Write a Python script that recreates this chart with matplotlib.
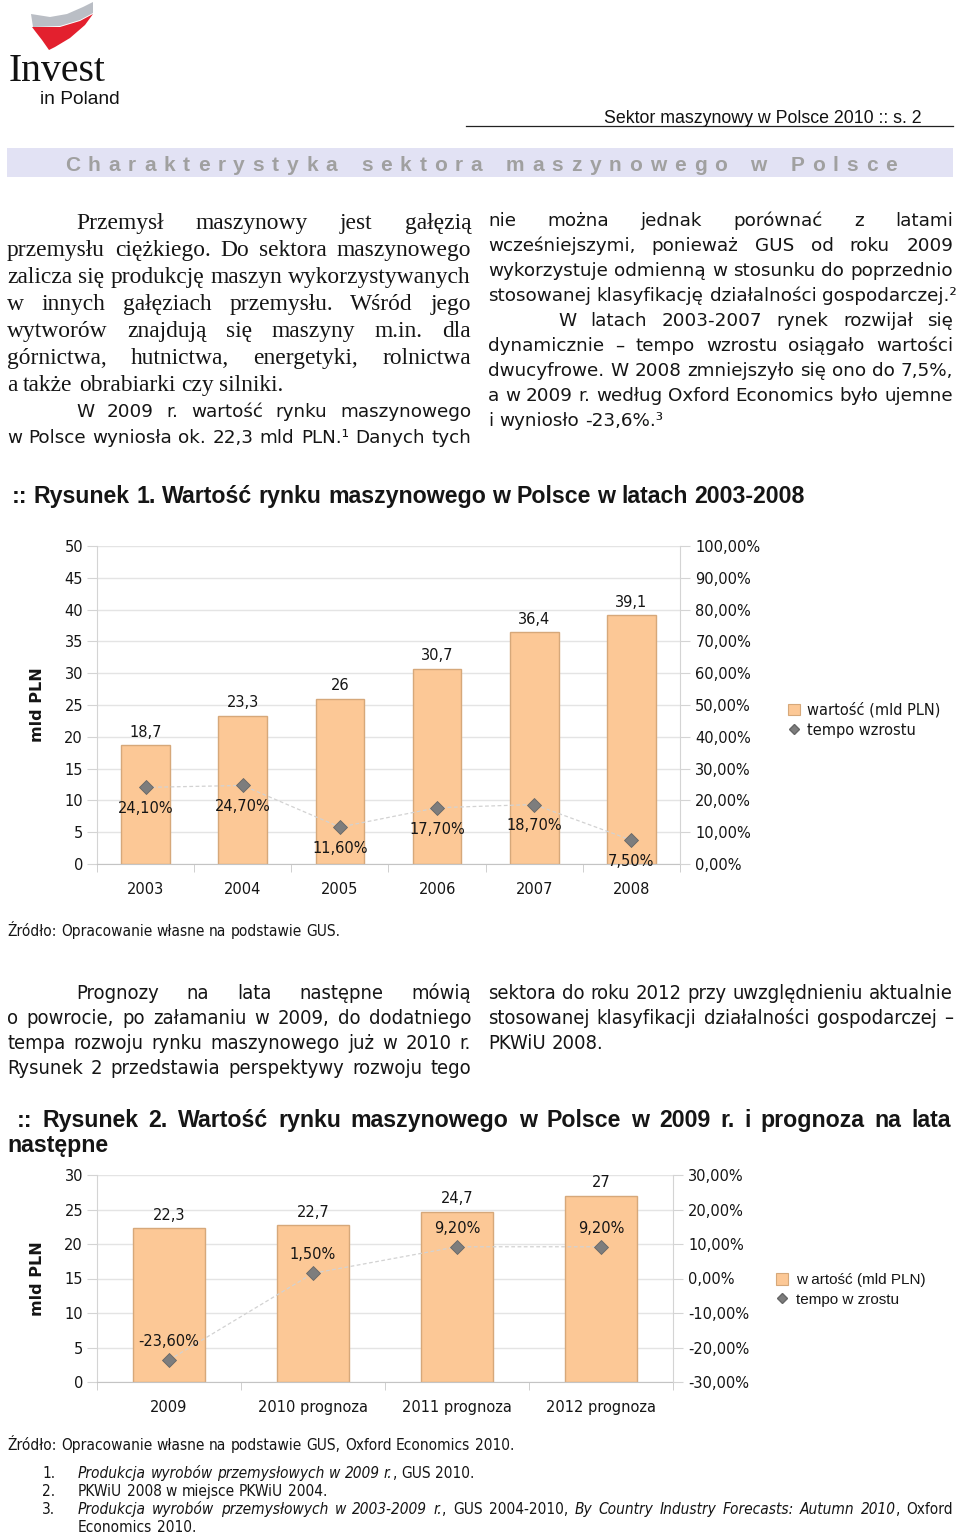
import numpy as np
import matplotlib
matplotlib.use('Agg')
import matplotlib.pyplot as plt
from matplotlib import font_manager
from matplotlib.patches import Polygon, Rectangle, Patch
from matplotlib.lines import Line2D
from matplotlib.ticker import FuncFormatter, MultipleLocator

# Rysunek 1: 2003-2008
years_1 = ['2003', '2004', '2005', '2006', '2007', '2008']
value_1 = [18.7, 23.3, 26, 30.7, 36.4, 39.1]
growth_1 = [24.1, 24.7, 11.6, 17.7, 18.7, 7.5]

# Rysunek 2: 2009 + prognoza
years_2 = ['2009', '2010 prognoza', '2011 prognoza', '2012 prognoza']
value_2 = [22.3, 22.7, 24.7, 27]
growth_2 = [-23.6, 1.5, 9.2, 9.2]

BAR = '#fcc896'
BAR_EDGE = '#d6a87a'
DIAMOND = '#7d7d7d'
GRID = '#e4e4e4'
INK = '#151515'

fonts = font_manager.fontManager.ttflist
installed = {f.name for f in fonts}
if 'Liberation Sans Narrow' in installed:
    NARROW = {'family': 'Liberation Sans Narrow'}
elif any(f.name == 'DejaVu Sans' and f.stretch == 'condensed' for f in fonts):
    NARROW = {'family': 'DejaVu Sans', 'fontstretch': 'condensed'}
else:
    NARROW = {'family': 'Liberation Sans'}

W, H = 960, 1534
fig = plt.figure(figsize=(W / 100, H / 100), dpi=100)
r = fig.canvas.get_renderer()


def fx(x):
    return x / W


def fy(y):
    return 1 - y / H


def text_w(s, **kw):
    t = fig.text(0, 0, s, **kw)
    w = t.get_window_extent(r).width
    t.remove()
    return w


def fit(s, target, **kw):
    return 10 * target / text_w(s, fontsize=10, **kw)


def runs(parts, x0, y, x1=None, **kw):
    # word by word, so a line can be justified between x0 and x1
    toks = []
    for s, extra in parts:
        bits = s.split(' ')
        for k, b in enumerate(bits):
            if b == '':
                if toks:
                    toks[-1][2] = True
                continue
            toks.append([b, extra, k < len(bits) - 1])
    toks[-1][2] = False
    objs, ws = [], []
    for b, extra, _ in toks:
        o = fig.text(fx(x0), fy(y), b, va='baseline', **{**kw, **extra})
        objs.append(o)
        ws.append(o.get_window_extent(r).width)
    n_sp = sum(t[2] for t in toks)
    sp = text_w('a a', **kw) - text_w('aa', **kw)
    if x1 is not None and n_sp:
        sp = (x1 - x0 - sum(ws)) / n_sp
    x = x0
    for o, w, t in zip(objs, ws, toks):
        o.set_x(fx(x))
        x += w + (sp if t[2] else 0)


def line(s, x0, y, x1=None, **kw):
    runs([(s, {})], x0, y, x1, **kw)


def block_size(lines, **kw):
    # biggest size at which every justified line still fits with plain spaces
    return min(fit(s, x1 - x0, **kw) for s, x0, x1 in lines if x1 is not None)


# ---- logo ----
gray = [(31, 14), (50, 17), (67, 14), (83, 7), (93, 2), (93, 13), (80, 20), (60, 26), (33, 27)]
red = [(32, 27), (60, 27), (80, 21), (93, 14), (85, 25), (70, 38), (55, 47), (49, 50), (42, 40), (35, 31)]
fig.add_artist(Polygon([(fx(a), fy(b)) for a, b in gray], closed=True, transform=fig.transFigure,
                       fc='#babec5', ec='none'))
fig.add_artist(Polygon([(fx(a), fy(b)) for a, b in red], closed=True, transform=fig.transFigure,
                       fc='#e3202e', ec='none'))
fig.text(fx(9), fy(81), 'Invest', family='Liberation Serif', va='baseline', color='#111',
         fontsize=fit('Invest', 97, family='Liberation Serif'))
fig.text(fx(40), fy(104), 'in Poland', family='Liberation Sans', va='baseline', color='#111',
         fontsize=fit('in Poland', 80, family='Liberation Sans'))

# ---- page header ----
hs = 'Sektor maszynowy w Polsce 2010 :: s. 2'
fig.text(fx(922), fy(123), hs, ha='right', va='baseline', family='Liberation Sans', color='#111',
         fontsize=fit(hs, 317, family='Liberation Sans'))
fig.add_artist(Line2D([fx(466), fx(953)], [fy(126), fy(126)], color='#222', lw=0.9,
                      transform=fig.transFigure))

fig.add_artist(Rectangle((fx(7), fy(177)), 946 / W, 29 / H, transform=fig.transFigure,
                         fc='#e2e2f4', ec='none'))
title = 'Charakterystyka sektora maszynowego w Polsce'
bkw = dict(family='Liberation Sans', fontweight='bold', fontsize=15, color='#a0a0a0')
cw = {c: text_w(c, **bkw) for c in set(title) if c != ' '}
n_chars = len(title.replace(' ', ''))
n_words = title.count(' ')
g = (832 - sum(cw[c] for c in title if c != ' ')) / (n_chars - 1 + 2 * n_words)
x = 65
for c in title:
    if c == ' ':
        x += 2 * g
        continue
    fig.text(fx(x), fy(171), c, va='baseline', **bkw)
    x += cw[c] + g

# ---- body text, part 1 ----
serif = dict(family='Liberation Serif', color=INK)
serif_lines = [
    ('Przemysł maszynowy jest gałęzią', 76, 471),
    ('przemysłu ciężkiego. Do sektora maszynowego', 7, 471),
    ('zalicza się produkcję maszyn wykorzystywanych', 7, 471),
    ('w innych gałęziach przemysłu. Wśród jego', 7, 471),
    ('wytworów znajdują się maszyny m.in. dla', 7, 471),
    ('górnictwa, hutnictwa, energetyki, rolnictwa', 7, 471),
    ('a także obrabiarki czy silniki.', 7, None),
]
serif['fontsize'] = block_size(serif_lines, **serif)
for i, (s, x0, x1) in enumerate(serif_lines):
    line(s, x0, 229 + 27 * i, x1, **serif)

sans = dict(family='DejaVu Sans', color=INK)
left_sans = [
    ('W 2009 r. wartość rynku maszynowego', 76, 471),
    ('w Polsce wyniosła ok. 22,3 mld PLN.¹ Danych tych', 7, 471),
]
right_lines = [
    ('nie można jednak porównać z latami', 488, 953),
    ('wcześniejszymi, ponieważ GUS od roku 2009', 488, 953),
    ('wykorzystuje odmienną w stosunku do poprzednio', 488, 953),
    ('stosowanej klasyfikację działalności gospodarczej.²', 488, None),
    ('W latach 2003-2007 rynek rozwijał się', 558, 953),
    ('dynamicznie – tempo wzrostu osiągało wartości', 488, 953),
    ('dwucyfrowe. W 2008 zmniejszyło się ono do 7,5%,', 488, 953),
    ('a w 2009 r. według Oxford Economics było ujemne', 488, 953),
    ('i wyniosło -23,6%.³', 488, None),
]
sans['fontsize'] = block_size(left_sans + right_lines, **sans)
for i, (s, x0, x1) in enumerate(left_sans):
    line(s, x0, 417 + 26 * i, x1, **sans)
for i, (s, x0, x1) in enumerate(right_lines):
    line(s, x0, 226 + 25 * i, x1, **sans)

head = dict(family='Liberation Sans', fontweight='bold', color=INK)
h1 = ':: Rysunek 1. Wartość rynku maszynowego w Polsce w latach 2003-2008'
head['fontsize'] = fit(h1, 793, **head)
line(h1, 12, 503, None, **head)

src = dict(color=INK, **NARROW)
src['fontsize'] = fit('Źródło: Opracowanie własne na podstawie GUS, Oxford Economics 2010.', 506, **src)


def pct(v, _=None):
    return f'{v:.2f}%'.replace('.', ',')


def num(v):
    return f'{v:g}'.replace('.', ',')


def chart(rect, cats, vals, growth, ylim, ystep, y2lim, y2step, above, legend_at, legend_labels, legend_font):
    ax = fig.add_axes(rect)
    x = np.arange(len(cats))
    bars = ax.bar(x, vals, width=0.5, color=BAR, edgecolor=BAR_EDGE, lw=1, zorder=2)
    for b, v in zip(bars, vals):
        ax.annotate(num(v), (b.get_x() + b.get_width() / 2, v), xytext=(0, 4),
                    textcoords='offset points', ha='center', va='bottom', fontsize=10.5, color=INK)
    ax.set_xlim(-0.5, len(cats) - 0.5)
    ax.set_ylim(*ylim)
    ax.yaxis.set_major_locator(MultipleLocator(ystep))
    ax.yaxis.grid(True, color=GRID, lw=1)
    ax.set_axisbelow(True)
    ax.set_xticks(x)
    ax.set_xticklabels(cats)
    ax.set_xticks(np.arange(-0.5, len(cats)), minor=True)
    ax.tick_params(axis='x', which='major', length=0, pad=13, labelsize=10.5, labelcolor=INK)
    ax.tick_params(axis='x', which='minor', length=6, color='#c8c8c8')
    ax.tick_params(axis='y', length=7, color='#d4d4d4', pad=3, labelsize=10.5, labelcolor=INK)
    for side in ['top', 'right']:
        ax.spines[side].set_visible(False)
    ax.spines['left'].set_color('#d4d4d4')
    ax.spines['bottom'].set_color('#c4c4c4')

    ax2 = ax.twinx()
    ax2.plot(x, growth, ls=(0, (3, 2)), lw=0.9, color='#d2d2d2', marker='D', ms=7,
             mfc=DIAMOND, mec='#666666', mew=0.6, zorder=3)
    for xi, gv in zip(x, growth):
        if above:
            ax2.annotate(pct(gv), (xi, gv), xytext=(0, 8), textcoords='offset points',
                         ha='center', va='bottom', fontsize=10.5, color=INK)
        else:
            ax2.annotate(pct(gv), (xi, gv), xytext=(0, -10), textcoords='offset points',
                         ha='center', va='top', fontsize=10.5, color=INK)
    ax2.set_ylim(*y2lim)
    ax2.yaxis.set_major_locator(MultipleLocator(y2step))
    ax2.yaxis.set_major_formatter(FuncFormatter(pct))
    ax2.tick_params(axis='y', length=7, color='#d4d4d4', pad=4, labelsize=10.5, labelcolor=INK)
    for side in ['top', 'left', 'bottom']:
        ax2.spines[side].set_visible(False)
    ax2.spines['right'].set_color('#d4d4d4')

    fig.text(fx(38), rect[1] + rect[3] / 2, 'mld PLN', rotation=90, ha='center', va='center',
             family='DejaVu Sans', fontweight='bold', fontsize=11.5, color=INK)

    handles = [Patch(facecolor=BAR, edgecolor=BAR_EDGE, lw=0.8),
               Line2D([], [], ls='none', marker='D', ms=5, mfc=DIAMOND, mec='#666666')]
    fig.legend(handles, legend_labels, loc='center left', bbox_to_anchor=legend_at, frameon=False,
               handlelength=0.8, handleheight=0.8, handletextpad=0.5, labelspacing=0.35,
               prop=legend_font, labelcolor=INK)
    return ax, ax2


chart([fx(97), fy(864), 583 / W, 318 / H], years_1, value_1, growth_1, (0, 50), 5, (0, 100), 10,
      False, (fx(775), fy(720)), ['wartość (mld PLN)', 'tempo wzrostu'],
      {'family': 'DejaVu Sans', 'size': 10.5})

line('Źródło: Opracowanie własne na podstawie GUS.', 7, 936, None, **src)

# ---- body text, part 2 ----
narrow = dict(color=INK, **NARROW)
left2 = [
    ('Prognozy na lata następne mówią', 76, 471),
    ('o powrocie, po załamaniu w 2009, do dodatniego', 7, 471),
    ('tempa rozwoju rynku maszynowego już w 2010 r.', 7, 471),
    ('Rysunek 2 przedstawia perspektywy rozwoju tego', 7, 471),
]
right2 = [
    ('sektora do roku 2012 przy uwzględnieniu aktualnie', 488, 953),
    ('stosowanej klasyfikacji działalności gospodarczej –', 488, 953),
    ('PKWiU 2008.', 488, None),
]
narrow['fontsize'] = block_size(left2 + right2, **narrow)
for i, (s, x0, x1) in enumerate(left2):
    line(s, x0, 999 + 25 * i, x1, **narrow)
for i, (s, x0, x1) in enumerate(right2):
    line(s, x0, 999 + 25 * i, x1, **narrow)

line(':: Rysunek 2. Wartość rynku maszynowego w Polsce w 2009 r. i prognoza na lata', 17, 1127, 951, **head)
line('następne', 7, 1152, None, **head)

chart([fx(97), fy(1382), 576 / W, 207 / H], years_2, value_2, growth_2, (0, 30), 5, (-30, 30), 10,
      True, (fx(762), fy(1290)), ['w artość (mld PLN)', 'tempo w zrostu'],
      {'family': 'Liberation Sans', 'size': 11})

line('Źródło: Opracowanie własne na podstawie GUS, Oxford Economics 2010.', 7, 1450, None, **src)

it = {'style': 'italic'}
no = {}
notes = [
    [('Produkcja wyrobów przemysłowych w 2009 r.', it), (', GUS 2010.', no)],
    [('PKWiU 2008 w miejsce PKWiU 2004.', no)],
    [('Produkcja wyrobów przemysłowych w 2003-2009 r.', it), (', GUS 2004-2010, ', no),
     ('By Country Industry Forecasts: Autumn 2010', it), (', Oxford', no)],
]
for i, parts in enumerate(notes):
    y = 1478 + 18 * i
    line(f'{i + 1}.', 42, y, None, **src)
    runs(parts, 78, y, 953 if i == 2 else None, **src)
line('Economics 2010.', 78, 1532, None, **src)

fig.savefig('out.png', dpi=100)
